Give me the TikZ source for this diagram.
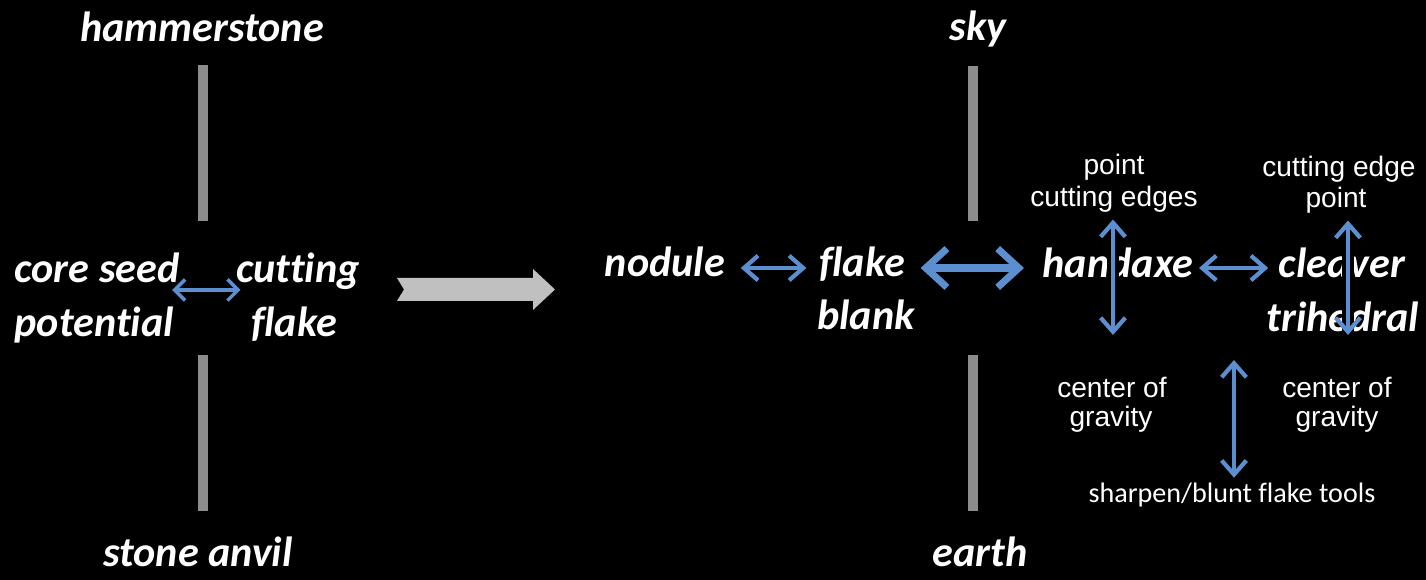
\documentclass[tikz,border=0pt]{standalone}
\usepackage{fontspec}
\setmainfont{Carlito}[Ligatures=CommonOff]
\newfontfamily\arialfont{Liberation Sans}
\usetikzlibrary{arrows.meta,positioning}
\definecolor{linkblue}{RGB}{91,143,207}
\definecolor{bargrey}{RGB}{140,140,140}
\definecolor{blockgrey}{RGB}{192,192,192}

\begin{document}
\begin{tikzpicture}[x=0.01cm,y=-0.01cm,
    term/.style={text=white,inner sep=0pt,anchor=base,font=\fontsize{12}{14}\selectfont\bfseries\itshape},
    note/.style={text=white,inner sep=0pt,anchor=base,font=\arialfont\fontsize{8}{9}\selectfont},
    link/.style={draw=linkblue,line width=1.2pt,{Straight Barb[length=4pt,width=7pt]}-{Straight Barb[length=4pt,width=7pt]}},
    biglink/.style={link,line width=2pt,{Straight Barb[length=6pt,width=11pt]}-{Straight Barb[length=6pt,width=11pt]}},
    smalllink/.style={link,line width=1pt,{Straight Barb[length=3pt,width=6pt]}-{Straight Barb[length=3pt,width=6pt]}},
    halo/.style={preaction={draw=black,line width=3.5pt,-}},
    bar/.style={fill=bargrey}]
    \useasboundingbox (0,0) rectangle (1426,580);
    \fill[black] (0,0) rectangle (1426,580);

    % left half: hammerstone over anvil
    \fill[bar] (198,65) rectangle (208,221);
    \fill[bar] (198,355) rectangle (208,511);
    \node[term] (hammer) at (202,42) {hammerstone};
    \node[term] (anvil) at (198,567) {stone anvil};
    \node[term,anchor=base west] (core) at (14,283) {core seed};
    \node[term,anchor=base west] (potential) at (14,337) {potential};
    \node[term] (cutting) at (298,283) {cutting};
    \node[term] (cflake) at (294,337) {flake};
    \draw[smalllink] ([shift={(-8,7)}]core.base east) -- ([shift={(5,7)}]cutting.base west);

    % grey block arrow
    \fill[blockgrey] (397,278) -- (533,278) -- (533,269) -- (555,289.5) -- (533,310) -- (533,301)
        -- (397,301) -- (404,289.5) -- cycle;

    % right half: sky over earth
    \fill[bar] (968,66) rectangle (978,221);
    \fill[bar] (968,355) rectangle (978,511);
    \node[term] (sky) at (978,41) {sky};
    \node[term] (earth) at (980,567) {earth};
    \node[term] (nodule) at (665,277) {nodule};
    \node[term] (flake) at (862,277) {flake};
    \node[term] (blank) at (866,330) {blank};
    \node[term] (handaxe) at (1118,278) {handaxe};
    \node[term] (cleaver) at (1342,278) {cleaver};
    \node[term] (trihedral) at (1343,332) {trihedral};

    \node[note] (point1) at (1114,175) {point};
    \node[note] (edges1) at (1114,207) {cutting edges};
    \node[note] (edge2) at (1339,177) {cutting edge};
    \node[note] (point2) at (1336,208) {point};
    \node[note] (center1) at (1112,398) {center of};
    \node[note] (gravity1) at (1111,427) {gravity};
    \node[note] (center2) at (1337,398) {center of};
    \node[note] (gravity2) at (1337,427) {gravity};
    \node[note,font=\fontsize{8}{9}\selectfont] (tools) at (1232,503) {sharpen/blunt flake tools};

    \coordinate (axebot) at (1113,335);
    \coordinate (cleavbot) at (1348,335);
    \coordinate (toolstop) at (1234,360);

    \draw[link] ([shift={(15,-9)}]nodule.base east) -- ([shift={(-12,-9)}]flake.base west);
    \draw[biglink] ([shift={(15,-9)}]flake.base east) -- ([shift={(-18,-10)}]handaxe.base west);
    \draw[link] ([shift={(5,-10)}]handaxe.base east) -- ([shift={(-10,-10)}]cleaver.base west);
    \draw[link,halo] (edges1.south -| axebot) ++(0,6) -- (axebot);
    \draw[link,halo] (point2.south -| cleavbot) ++(0,6) -- (cleavbot);
    \draw[link] (tools.north -| toolstop) ++(0,-5) -- (toolstop);
\end{tikzpicture}
\end{document}
